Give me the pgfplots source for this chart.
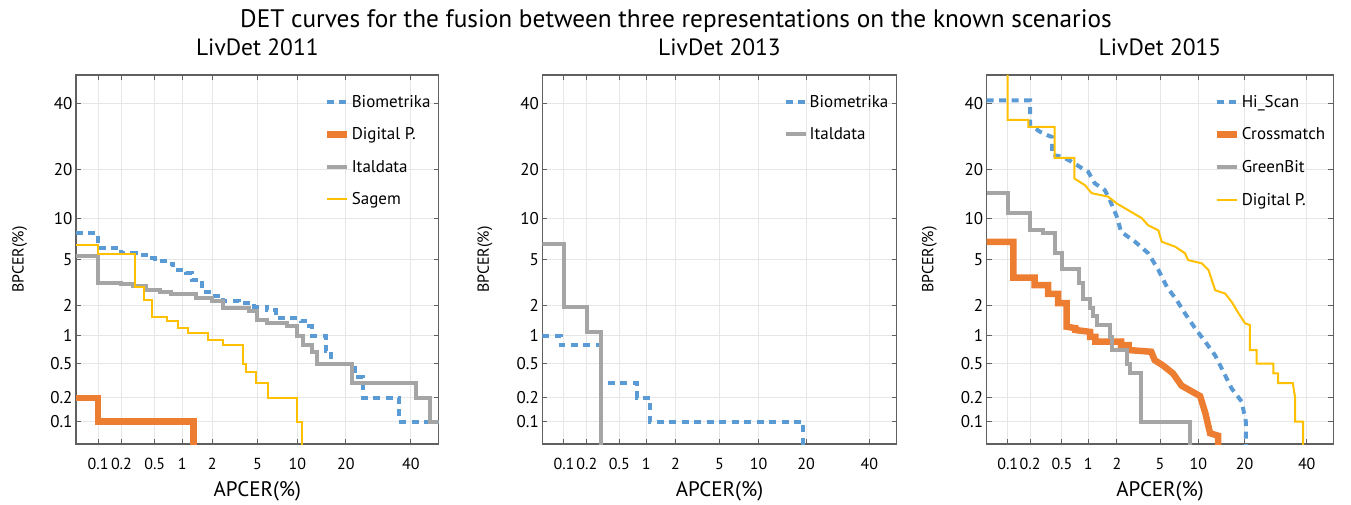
\documentclass[border=0pt]{standalone}
\usepackage{fontspec}
\setmainfont{PT Sans}
\usepackage{pgfplots}
\pgfplotsset{compat=1.18}
\definecolor{cblue}{HTML}{5B9BD5}
\definecolor{corange}{HTML}{ED7D31}
\definecolor{cgray}{HTML}{A5A5A5}
\definecolor{cyellow}{HTML}{FFC000}
\definecolor{gridgray}{HTML}{E6E6E6}
\definecolor{axisgray}{HTML}{606060}
\pgfplotsset{
  det/.style={
    scale only axis, height=369pt,
    xmin=-3.2905, xmax=0, ymin=-3.2905, ymax=0,
    xtick={-3.0902,-2.8782,-2.5758,-2.3263,-2.0537,-1.6449,-1.2816,-0.8416,-0.2533},
    xticklabels={0.1,0.2,0.5,1,2,5,10,20,40},
    ytick={-3.0902,-2.8782,-2.5758,-2.3263,-2.0537,-1.6449,-1.2816,-0.8416,-0.2533},
    yticklabels={0.1,0.2,0.5,1,2,5,10,20,40},
    grid=major, major grid style={draw=gridgray, line width=1pt},
    tick align=inside, major tick length=5pt,
    every tick/.style={draw=axisgray, line width=1pt},
    axis line style={draw=axisgray, line width=1.3pt},
    tick label style={font=\fontsize{16}{19}\selectfont, black},
    yticklabel style={font=\fontsize{17}{20}\selectfont},
    xticklabel style={yshift=-11pt},
    xlabel={APCER(\%)}, ylabel={BPCER(\%)},
    xlabel style={font=\fontsize{21}{24}\selectfont, at={(axis description cs:0.5,-0.127)}, anchor=center},
    ylabel style={font=\fontsize{16}{19}\selectfont},
    title style={font=\fontsize{23.5}{27}\selectfont, at={(axis description cs:0.5,1)}, anchor=base, yshift=13pt},
    legend style={at={(axis description cs:1,1)}, anchor=north east, xshift=-4pt, yshift=-16pt,
      draw=none, fill=none, font=\fontsize{17}{20}\selectfont, row sep=15pt, inner sep=2pt},
    legend cell align=left,
    legend image code/.code={\draw[##1] (0pt,0pt) -- (20pt,0pt);},
  },
  pblue/.style={cblue, line width=4pt, dash pattern=on 7pt off 5.5pt},
  porange/.style={corange, line width=6.5pt},
  pgray/.style={cgray, line width=4pt},
  pyellow/.style={cyellow, line width=2pt},
}
\begin{document}
\begin{tikzpicture}[declare function={
    pt(\p)=sqrt(-2*ln(\p/100));
    probit(\p)=-(pt(\p)-(2.515517+0.802853*pt(\p)+0.010328*pt(\p)^2)/(1+1.432788*pt(\p)+0.189269*pt(\p)^2+0.001308*pt(\p)^3));
  }]
\path[use as bounding box] (0,0) rectangle (1351pt,504pt);
\node[anchor=base, font=\fontsize{25.3}{29}\selectfont] at (676pt,476pt) {DET curves for the fusion between three representations on the known scenarios};

% ---------------- LivDet 2011
\begin{axis}[det, at={(76pt,60pt)}, anchor=south west, width=362.7pt,
  title={LivDet 2011}, ylabel style={at={(axis description cs:-0.155,0.5)}, anchor=center}]
\addplot[pblue, const plot] table[row sep=\\, x expr={probit(\thisrow{x})}, y expr={probit(\thisrow{y})}] {
x y\\ 0.05 8\\ 0.1 6.2\\ 0.2 5.6\\ 0.3 5.4\\ 0.4 5.1\\ 0.5 4.85\\ 0.65 4.6\\ 0.8 4.1\\ 1.1 3.85\\ 1.25 3.4\\ 1.6 2.65\\ 2.0 2.45\\ 2.5 2.2\\ 3.5 2.1\\ 4.7 1.95\\ 6.0 1.8\\ 7.0 1.5\\ 10.5 1.4\\ 12.0 1.25\\ 12.5 1.0\\ 15.3 0.7\\ 16.5 0.5\\ 22.5 0.35\\ 24.5 0.2\\ 36 0.1\\ 50 0.1\\
};
\addlegendentry{Biometrika}
\addplot[porange, const plot] table[row sep=\\, x expr={probit(\thisrow{x})}, y expr={probit(\thisrow{y})}] {
x y\\ 0.05 0.2\\ 0.1 0.1\\ 1.3 0.01\\
};
\addlegendentry{Digital P.}
\addplot[pgray, const plot] table[row sep=\\, x expr={probit(\thisrow{x})}, y expr={probit(\thisrow{y})}] {
x y\\ 0.05 5.3\\ 0.1 3.2\\ 0.2 3.1\\ 0.28 3.0\\ 0.4 2.75\\ 0.58 2.65\\ 0.75 2.55\\ 1.4 2.35\\ 2.0 2.2\\ 2.5 1.9\\ 4.3 1.75\\ 5.0 1.45\\ 6.0 1.35\\ 8.5 1.25\\ 10 1.0\\ 11 0.8\\ 12.5 0.68\\ 13.5 0.5\\ 21.5 0.3\\ 42 0.2\\ 47 0.1\\ 50 0.1\\
};
\addlegendentry{Italdata}
\addplot[pyellow, const plot] table[row sep=\\, x expr={probit(\thisrow{x})}, y expr={probit(\thisrow{y})}] {
x y\\ 0.05 6.5\\ 0.1 5.5\\ 0.29 2.95\\ 0.38 2.25\\ 0.47 1.55\\ 0.68 1.4\\ 0.9 1.2\\ 1.15 1.07\\ 1.8 0.9\\ 2.5 0.8\\ 3.8 0.5\\ 4.0 0.4\\ 4.9 0.3\\ 6.1 0.2\\ 9.9 0.1\\ 10.8 0.01\\
};
\addlegendentry{Sagem}
\end{axis}

% ---------------- LivDet 2013
\begin{axis}[det, at={(542.4pt,60pt)}, anchor=south west, width=354.2pt,
  title={LivDet 2013}, ylabel style={at={(axis description cs:-0.162,0.5)}, anchor=center}]
\addplot[pblue, const plot] table[row sep=\\, x expr={probit(\thisrow{x})}, y expr={probit(\thisrow{y})}] {
x y\\ 0.05 1.0\\ 0.09 0.8\\ 0.3 0.3\\ 0.8 0.2\\ 1.1 0.1\\ 19.3 0.01\\
};
\addlegendentry{Biometrika}
\addplot[pgray, const plot] table[row sep=\\, x expr={probit(\thisrow{x})}, y expr={probit(\thisrow{y})}] {
x y\\ 0.05 6.6\\ 0.1 1.95\\ 0.2 1.1\\ 0.3 0.01\\
};
\addlegendentry{Italdata}
\end{axis}

% ---------------- LivDet 2015
\begin{axis}[det, at={(986.6pt,60pt)}, anchor=south west, width=346.8pt,
  title={LivDet 2015}, ylabel style={at={(axis description cs:-0.165,0.5)}, anchor=center}]
\addplot[pblue] table[row sep=\\, x expr={probit(\thisrow{x})}, y expr={probit(\thisrow{y})}] {
x y\\ 0.05 41\\ 0.2 41\\ 0.2 32.8\\ 0.27 30.6\\ 0.33 29.6\\ 0.38 29\\ 0.38 23.8\\ 0.5 23.3\\ 0.65 22.0\\ 0.85 20.3\\ 1.0 19.4\\ 1.18 16.7\\ 1.51 15.2\\ 1.7 13.2\\ 2.0 10.3\\ 2.2 8.1\\ 3.0 6.85\\ 3.95 5.6\\ 4.85 4.1\\ 5.7 2.95\\ 6.85 2.24\\ 7.95 1.68\\ 9.5 1.19\\ 11.2 0.87\\ 13.1 0.62\\ 14.8 0.41\\ 16.7 0.26\\ 19.2 0.18\\ 20.3 0.1\\ 20.3 0.01\\
};
\addlegendentry{Hi\_Scan}
\addplot[porange] table[row sep=\\, x expr={probit(\thisrow{x})}, y expr={probit(\thisrow{y})}] {
x y\\ 0.05 6.85\\ 0.12 6.85\\ 0.12 3.55\\ 0.23 3.55\\ 0.23 3.05\\ 0.34 3.05\\ 0.34 2.55\\ 0.45 2.55\\ 0.45 2.1\\ 0.57 2.1\\ 0.57 1.24\\ 0.72 1.2\\ 0.72 1.15\\ 1.05 1.1\\ 1.05 0.98\\ 1.2 0.98\\ 1.2 0.87\\ 2.2 0.87\\ 2.2 0.8\\ 2.6 0.8\\ 2.6 0.71\\ 4.2 0.68\\ 4.5 0.55\\ 5.3 0.48\\ 6.4 0.39\\ 7.5 0.28\\ 10.3 0.21\\ 11.2 0.13\\ 12.1 0.07\\ 13.7 0.065\\ 13.7 0.01\\
};
\addlegendentry{Crossmatch}
\addplot[pgray, const plot] table[row sep=\\, x expr={probit(\thisrow{x})}, y expr={probit(\thisrow{y})}] {
x y\\ 0.05 14.7\\ 0.1 11.0\\ 0.2 8.3\\ 0.29 8.0\\ 0.41 5.6\\ 0.5 4.2\\ 0.8 3.16\\ 0.88 2.3\\ 1.05 1.9\\ 1.14 1.6\\ 1.24 1.3\\ 1.7 0.98\\ 1.8 0.71\\ 2.5 0.505\\ 2.7 0.39\\ 3.4 0.1\\ 8.7 0.01\\
};
\addlegendentry{GreenBit}
\addplot[pyellow] table[row sep=\\, x expr={probit(\thisrow{x})}, y expr={probit(\thisrow{y})}] {
x y\\ 0.1 50\\ 0.1 34.4\\ 0.19 34.4\\ 0.19 32.2\\ 0.41 32.2\\ 0.41 23\\ 0.70 23\\ 0.70 17.8\\ 0.92 16.3\\ 1.09 14.6\\ 1.63 13.9\\ 1.99 12.6\\ 2.58 11.4\\ 3.45 10.1\\ 3.95 9.0\\ 4.84 8.3\\ 5.17 6.85\\ 6.65 6.3\\ 7.96 5.6\\ 8.4 4.95\\ 10.6 4.65\\ 11.8 4.1\\ 13.1 2.75\\ 15.2 2.57\\ 16.7 2.16\\ 18.4 1.68\\ 20.1 1.34\\ 21.4 1.29\\ 21.4 0.71\\ 23.3 0.71\\ 23.3 0.505\\ 28.4 0.505\\ 28.4 0.39\\ 30 0.39\\ 30 0.30\\ 35 0.30\\ 35.8 0.2\\ 35.8 0.1\\ 38.7 0.1\\ 38.7 0.01\\
};
\addlegendentry{Digital P.}
\end{axis}
\end{tikzpicture}
\end{document}
